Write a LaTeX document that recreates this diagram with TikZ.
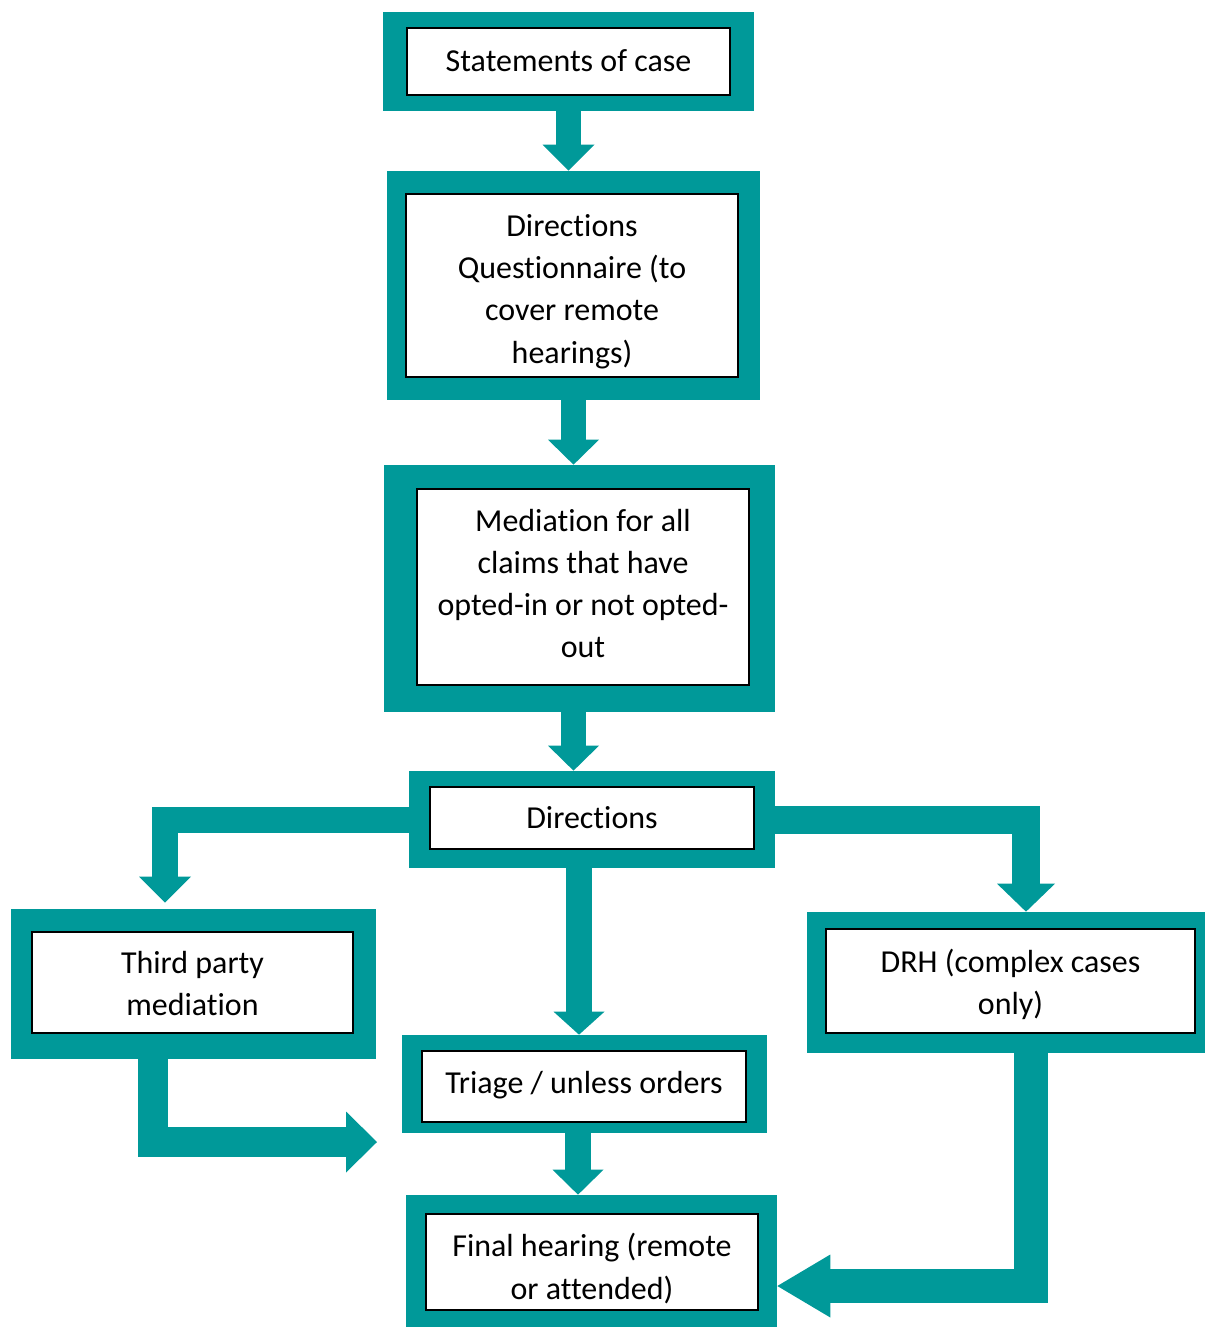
\documentclass[tikz,border=0pt]{standalone}
\usepackage{fontspec}
\setmainfont{Carlito}[Ligatures=NoCommon]
\usetikzlibrary{arrows.meta}
\definecolor{flowteal}{RGB}{0,153,153}

\begin{document}
\begin{tikzpicture}[x=0.02cm, y=-0.02cm,
    stageframe/.style={fill=flowteal, inner sep=0pt},
    stagebox/.style={draw=black, line width=0.8pt, fill=white, inner sep=0pt},
    stagetext/.style={inner sep=0pt, align=center, font=\fontsize{18.2}{24}\selectfont},
    flow/.style n args={3}{draw=flowteal, line width=#1,
        -{Triangle[width=#2, length=#3, line width=0pt]}}]
    \useasboundingbox (0,0) rectangle (1204,1327);

    % Frames
    \node[stageframe, minimum width=7.42cm, minimum height=1.98cm] (soc) at (568.5,61.5) {};
    \node[stageframe, minimum width=7.46cm, minimum height=4.58cm] (dq) at (573.5,285.5) {};
    \node[stageframe, minimum width=7.82cm, minimum height=4.94cm] (med) at (579.5,588.5) {};
    \node[stageframe, minimum width=7.32cm, minimum height=1.94cm] (dir) at (592,819.5) {};
    \node[stageframe, minimum width=7.30cm, minimum height=3.00cm] (tpm) at (193.5,984) {};
    \node[stageframe, minimum width=7.30cm, minimum height=1.96cm] (tri) at (584.5,1084) {};
    \node[stageframe, minimum width=8.14cm, minimum height=2.82cm] (drh) at (1010.5,982.5) {};
    \node[stageframe, minimum width=7.42cm, minimum height=2.64cm] (fh) at (591.5,1261) {};

    % White boxes
    \node[stagebox, minimum width=6.46cm, minimum height=1.34cm] (socbox) at (568.5,61.5) {};
    \node[stagebox, minimum width=6.64cm, minimum height=3.66cm] (dqbox) at (572,285.5) {};
    \node[stagebox, minimum width=6.64cm, minimum height=3.92cm] (medbox) at (583,587) {};
    \node[stagebox, minimum width=6.48cm, minimum height=1.24cm] (dirbox) at (592,818) {};
    \node[stagebox, minimum width=6.42cm, minimum height=2.02cm] (tpmbox) at (192.5,982.5) {};
    \node[stagebox, minimum width=6.48cm, minimum height=1.42cm] (tribox) at (584,1086.5) {};
    \node[stagebox, minimum width=7.38cm, minimum height=2.08cm] (drhbox) at (1010.5,981) {};
    \node[stagebox, minimum width=6.64cm, minimum height=1.92cm] (fhbox) at (592,1262) {};

    % Texts
    \node[stagetext] (soctext) at (568.5,60.5) {Statements of case};
    \node[stagetext] (dqtext) at (572,291.5) {Directions\\Questionnaire (to\\cover remote\\hearings)};
    \node[stagetext] (medtext) at (583,583.5) {Mediation for all\\claims that have\\opted-in or not opted-\\out};
    \node[stagetext] (dirtext) at (592,818) {Directions};
    \node[stagetext] (tpmtext) at (192.5,983.5) {Third party\\mediation};
    \node[stagetext] (tritext) at (584,1085.5) {Triage / unless orders};
    \node[stagetext] (drhtext) at (1010.5,984) {DRH (complex cases\\only)};
    \node[stagetext] (fhtext) at (592,1268.5) {Final hearing (remote\\or attended)};

    \coordinate (tpmend) at (377,1142);

    % Arrows
    \draw[flow={0.5cm}{1.04cm}{0.52cm}] (soc.south) -- (soc.south |- dq.north);
    \draw[flow={0.5cm}{1.02cm}{0.5cm}] (dq.south) -- (dq.south |- med.north);
    \draw[flow={0.5cm}{1.02cm}{0.5cm}] ([xshift=-0.12cm]med.south) -- ([xshift=-0.12cm]med.south |- dir.north);
    \draw[flow={0.52cm}{1.02cm}{0.46cm}] ([xshift=-0.26cm]dir.south) -- ([xshift=-0.26cm]dir.south |- tri.north);
    \draw[flow={0.52cm}{1.02cm}{0.5cm}] ([xshift=-0.13cm]tri.south) -- ([xshift=-0.13cm]tri.south |- fh.north);
    \draw[flow={0.52cm}{1.04cm}{0.52cm}] (dir.west) -| ([xshift=-0.57cm, yshift=0.12cm]tpm.north);
    \draw[flow={0.56cm}{1.16cm}{0.56cm}] (dir.east) -| ([xshift=0.31cm]drh.north);
    \draw[flow={0.6cm}{1.22cm}{0.62cm}] ([xshift=-0.81cm]tpm.south) |- (tpmend);
    \draw[flow={0.68cm}{1.26cm}{1.06cm}] ([xshift=0.4cm]drh.south) |- ([yshift=-0.5cm]fh.east);
\end{tikzpicture}
\end{document}
